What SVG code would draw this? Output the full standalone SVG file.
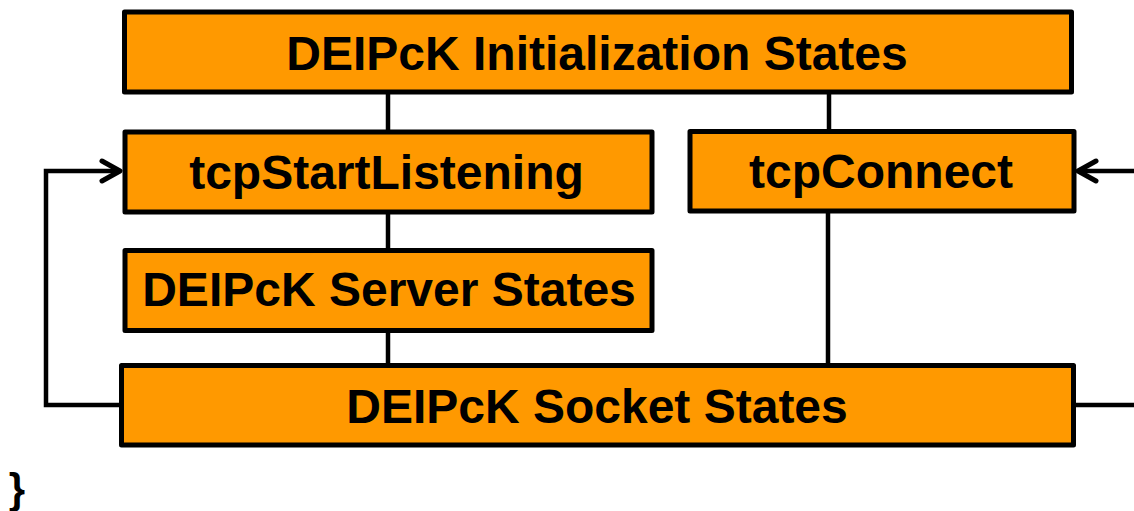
<svg xmlns="http://www.w3.org/2000/svg" width="1134" height="511" viewBox="0 0 1134 511">
<style>
.box{fill:#FF9900;stroke:#000;stroke-width:5;stroke-linejoin:round}
.lbl{font-family:"Liberation Sans",Arial,sans-serif;font-weight:bold;font-size:48px;fill:#000;text-anchor:middle}
.ln{fill:none;stroke:#000;stroke-width:4.5}
.arr{fill:none;stroke:#000;stroke-width:5;stroke-linecap:round;stroke-linejoin:round}
</style>
<rect width="1134" height="511" fill="#fff"/>
<g id="connectors">
<line class="ln" x1="388" y1="92" x2="388" y2="131"/>
<line class="ln" x1="829" y1="92" x2="829" y2="131"/>
<line class="ln" x1="388" y1="212" x2="388" y2="250"/>
<line class="ln" x1="388" y1="330" x2="388" y2="365"/>
<line class="ln" x1="828" y1="211" x2="828" y2="365"/>
<polyline class="ln" points="121,405 46,405 46,171 120,171"/>
<polyline class="arr" points="102,161 120,171 102,181"/>
<line class="ln" x1="1134" y1="171" x2="1078" y2="171"/>
<polyline class="arr" points="1096,161 1078,171 1096,181"/>
<line class="ln" x1="1074" y1="405" x2="1134" y2="405"/>
</g>
<g id="init">
<rect class="box" x="124.5" y="12" width="947" height="80"/>
<text class="lbl" x="597" y="70">DEIPcK Initialization States</text>
</g>
<g id="listen">
<rect class="box" x="125" y="132" width="527" height="80"/>
<text class="lbl" x="386.5" y="188.5">tcpStartListening</text>
</g>
<g id="connect">
<rect class="box" x="690" y="131.5" width="384" height="79.5"/>
<text class="lbl" x="881" y="188">tcpConnect</text>
</g>
<g id="server">
<rect class="box" x="125" y="250.5" width="527" height="80"/>
<text class="lbl" x="389" y="306">DEIPcK Server States</text>
</g>
<g id="socket">
<rect class="box" x="121.5" y="365.5" width="952" height="79.5"/>
<text class="lbl" x="597" y="422.5">DEIPcK Socket States</text>
</g>
<text x="17" y="503" style="font-family:'Liberation Sans',Arial,sans-serif;font-weight:bold;font-size:42px" text-anchor="middle">}</text>
</svg>
